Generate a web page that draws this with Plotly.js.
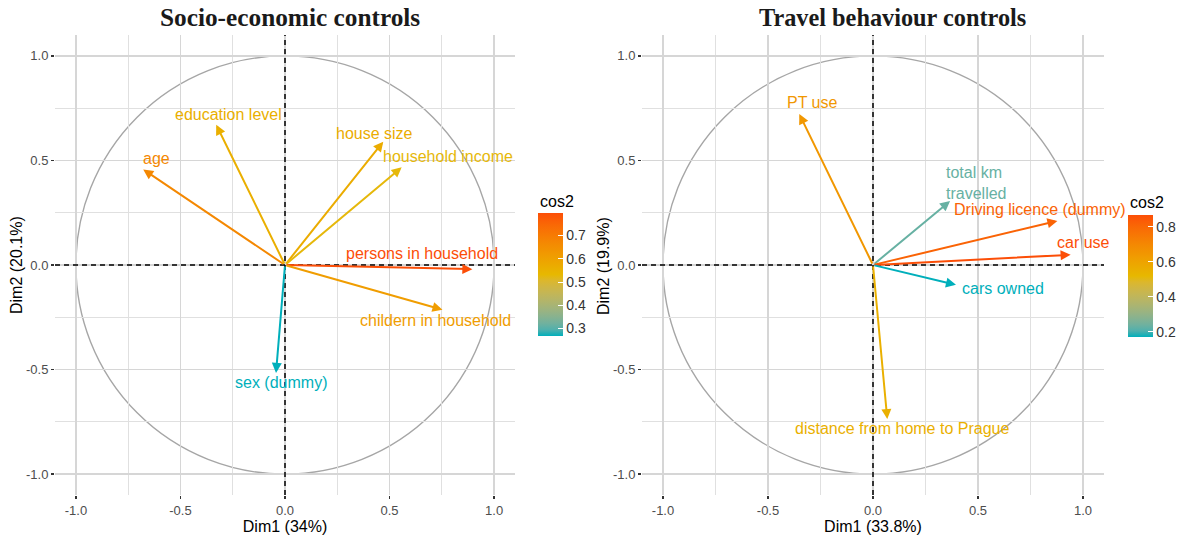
<!DOCTYPE html>
<html><head><meta charset="utf-8">
<script src="https://cdn.plot.ly/plotly-3.0.1.min.js"></script>
<style>html,body{margin:0;padding:0;background:#fff}#chart{width:1180px;height:535px}</style>
</head><body><div id="chart"></div>
<script>
// ---------- Data: Socio-economic controls ----------
const seVars   = ["age","education level","house size","household income","persons in household","childern in household","sex (dummy)"];
const seDim1   = [-0.678,-0.329,0.470,0.558,0.896,0.753,-0.043];
const seDim2   = [0.457,0.671,0.590,0.467,-0.020,-0.214,-0.516];
const seCos2   = [0.668,0.558,0.569,0.529,0.797,0.613,0.268];
const seLabelX = [-0.616,-0.272,0.430,0.778,0.656,0.718,-0.021];
const seLabelY = [0.511,0.722,0.629,0.520,0.056,-0.265,-0.560];

// ---------- Data: Travel behaviour controls ----------
const tbVars   = ["PT use","total km<br>travelled","Driving licence (dummy)","car use","cars owned","distance from home to Prague"];
const tbDim1   = [-0.351,0.367,0.878,0.941,0.395,0.068];
const tbDim2   = [0.722,0.306,0.211,0.049,-0.095,-0.737];
const tbCos2   = [0.645,0.230,0.815,0.868,0.170,0.550];
const tbLabelX = [-0.287,0.490,0.794,1.000,0.619,0.138];
const tbLabelY = [0.778,0.393,0.267,0.108,-0.111,-0.784];

const axisTicks    = [-1,-0.5,0,0.5,1];
const axisTickText = ["-1.0","-0.5","0.0","0.5","1.0"];
const minorTicks   = [-0.75,-0.25,0.25,0.75];

// ---------- colour helpers (Lab interpolation like ggplot) ----------
const gradCols = ["#00AFBB","#E7B800","#FC4E07"];
function s2l(c){c/=255;return c<=0.04045?c/12.92:Math.pow((c+0.055)/1.055,2.4);}
function l2s(c){c=c<=0.0031308?12.92*c:1.055*Math.pow(c,1/2.4)-0.055;return Math.round(Math.max(0,Math.min(1,c))*255);}
function hex2lab(h){
  const r=s2l(parseInt(h.slice(1,3),16)),g=s2l(parseInt(h.slice(3,5),16)),b=s2l(parseInt(h.slice(5,7),16));
  const X=(0.4124*r+0.3576*g+0.1805*b)/0.95047,Y=0.2126*r+0.7152*g+0.0722*b,Z=(0.0193*r+0.1192*g+0.9505*b)/1.08883;
  const f=t=>t>0.008856?Math.cbrt(t):7.787*t+16/116;
  const fx=f(X),fy=f(Y),fz=f(Z);return [116*fy-16,500*(fx-fy),200*(fy-fz)];
}
function lab2rgb(L,a,b){
  const fy=(L+16)/116,fx=fy+a/500,fz=fy-b/200;
  const fi=t=>t*t*t>0.008856?t*t*t:(t-16/116)/7.787;
  const X=fi(fx)*0.95047,Y=fi(fy),Z=fi(fz)*1.08883;
  const r=3.2406*X-1.5372*Y-0.4986*Z,g=-0.9689*X+1.8758*Y+0.0415*Z,bb=0.0557*X-0.2040*Y+1.0570*Z;
  return 'rgb('+l2s(r)+','+l2s(g)+','+l2s(bb)+')';
}
const labs = gradCols.map(hex2lab);
function colAt(t){
  t=Math.max(0,Math.min(1,t));
  const seg=t<0.5?0:1, lt=(t-seg*0.5)/0.5, A=labs[seg], B=labs[seg+1];
  return lab2rgb(A[0]+(B[0]-A[0])*lt,A[1]+(B[1]-A[1])*lt,A[2]+(B[2]-A[2])*lt);
}
const cscale=[];for(let i=0;i<=20;i++){cscale.push([i/20,colAt(i/20)]);}

const FONT="Liberation Sans, Arial, Helvetica, sans-serif";
const W=1180,H=535;

function makeAxis(dom, anchor, title){
  return {
    domain:dom, anchor:anchor, range:[-1.1,1.1], tickvals:axisTicks, ticktext:axisTickText,
    showgrid:true, gridcolor:'#d6d6d6', gridwidth:1.5, zeroline:false, showline:false,
    minor:{tickvals:minorTicks, showgrid:true, gridcolor:'#e0e0e0', gridwidth:1.2, ticks:''},
    ticks:'outside', ticklen:3, tickwidth:1.5, tickcolor:'#333',
    tickfont:{family:FONT,size:13,color:'#4d4d4d'},
    title:{text:title, font:{family:FONT,size:16,color:'#000'}, standoff:4},
    automargin:false, fixedrange:true
  };
}

const yDom=[40/H, 500/H];
function cbar(xpx,ypx,lenpx,dt){
  return {x:xpx/W,xanchor:'left',y:1-ypx/H,yanchor:'top',len:lenpx,lenmode:'pixels',thickness:25,thicknessmode:'pixels',
    xpad:0,ypad:0,outlinewidth:0,ticks:'inside',ticklen:5,tickcolor:'#fff',tickwidth:1,dtick:dt,tick0:0,tickformat:'.1f',
    tickfont:{family:FONT,size:14,color:'#333'},title:{text:''}};
}
const layout={
  width:W,height:H,margin:{l:0,r:0,t:0,b:0,autoexpand:false},paper_bgcolor:'#fff',plot_bgcolor:'#fff',showlegend:false,
  xaxis: makeAxis([55/W,515/W],'y','Dim1 (34%)'),
  yaxis: Object.assign(makeAxis(yDom,'x',''),{title:{text:''}}),
  xaxis2: makeAxis([642/W,1104/W],'y2','Dim1 (33.8%)'),
  yaxis2: Object.assign(makeAxis(yDom,'x2',''),{title:{text:''}}),
  coloraxis:{colorscale:cscale,cmin:Math.min(...seCos2),cmax:Math.max(...seCos2),colorbar:cbar(538,213,123,0.1)},
  coloraxis2:{colorscale:cscale,cmin:Math.min(...tbCos2),cmax:Math.max(...tbCos2),colorbar:cbar(1128,215,122,0.2)},
  shapes:[], annotations:[]
};

function addPanel(xr,yr,vars,d1,d2,c2,lx,ly){
  const mn=Math.min(...c2),mx=Math.max(...c2);
  layout.shapes.push({type:'circle',xref:xr,yref:yr,x0:-1,x1:1,y0:-1,y1:1,line:{color:'#a6a6a6',width:1.4},layer:'below'});
  layout.shapes.push({type:'line',xref:xr,yref:yr+' domain',x0:0,x1:0,y0:0,y1:1,line:{color:'#000',width:1.5,dash:'5px,4px'}});
  layout.shapes.push({type:'line',xref:xr+' domain',yref:yr,x0:0,x1:1,y0:0,y1:0,line:{color:'#000',width:1.5,dash:'5px,4px'}});
  for(let i=0;i<vars.length;i++){
    const col=colAt((c2[i]-mn)/(mx-mn));
    layout.annotations.push({xref:xr,yref:yr,axref:xr,ayref:yr,x:d1[i],y:d2[i],ax:0,ay:0,text:'',showarrow:true,
      arrowhead:2,arrowsize:1,arrowwidth:2,arrowcolor:col,standoff:0,startstandoff:0});
    layout.annotations.push({xref:xr,yref:yr,x:lx[i],y:ly[i],text:vars[i],showarrow:false,align:'left',
      xanchor:'center',yanchor:'middle',font:{family:FONT,size:16,color:col}});
  }
}
addPanel('x','y',seVars,seDim1,seDim2,seCos2,seLabelX,seLabelY);
addPanel('x2','y2',tbVars,tbDim1,tbDim2,tbCos2,tbLabelX,tbLabelY);

function paperText(text,xpx,ypx,opts){
  layout.annotations.push(Object.assign({xref:'paper',yref:'paper',x:xpx/W,y:1-ypx/H,xanchor:'center',yanchor:'middle',
    showarrow:false,text:text},opts));
}
const SERIF='Liberation Serif, Times New Roman, serif';
paperText('<b>Socio-economic controls</b>',289.5,17,{font:{family:SERIF,size:25.3,color:'#1a1a1a'}});
paperText('<b>Travel behaviour controls</b>',892,17,{font:{family:SERIF,size:24.3,color:'#1a1a1a'}});
paperText('Dim2 (20.1%)',17,265,{textangle:-90,font:{family:FONT,size:16,color:'#000'}});
paperText('Dim2 (19.9%)',603,266,{textangle:-90,font:{family:FONT,size:16,color:'#000'}});
paperText('cos2',538,201,{xanchor:'left',font:{family:FONT,size:16,color:'#000'}});
paperText('cos2',1128,202,{xanchor:'left',font:{family:FONT,size:16,color:'#000'}});

const traces=[
  {type:'scatter',mode:'markers',x:seDim1,y:seDim2,xaxis:'x',yaxis:'y',hoverinfo:'skip',
   marker:{size:1,opacity:0,color:seCos2,coloraxis:'coloraxis'}},
  {type:'scatter',mode:'markers',x:tbDim1,y:tbDim2,xaxis:'x2',yaxis:'y2',hoverinfo:'skip',
   marker:{size:1,opacity:0,color:tbCos2,coloraxis:'coloraxis2'}}
];
Plotly.newPlot('chart',traces,layout,{displayModeBar:false,staticPlot:true});
</script></body></html>
